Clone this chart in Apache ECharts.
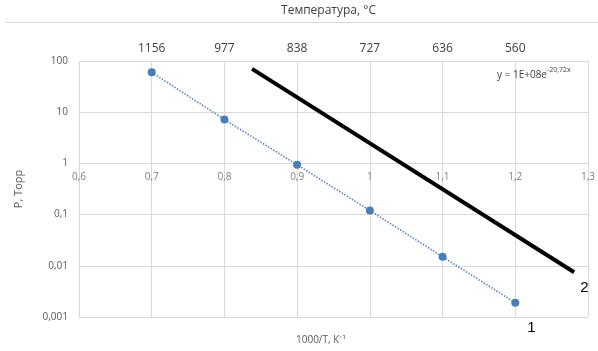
<!DOCTYPE html>
<html>
<head>
<meta charset="utf-8">
<script src="https://cdn.jsdelivr.net/npm/echarts@6/dist/echarts.min.js"></script>
<style>
  html, body { margin: 0; padding: 0; background: #fff; }
  #chart { width: 598px; height: 351px; }
</style>
</head>
<body>
<div id="chart"></div>
<script>
// Inverse temperature, 1000/T (K^-1)
const invT = [0.7, 0.8, 0.9, 1.0, 1.1, 1.2];
// Measured vapour pressure, Torr (curve 1)
const pressure1 = [60, 7.2, 0.94, 0.12, 0.015, 0.0019];
// Reference dependence (curve 2): two end points of the straight line
const invT2 = [0.838, 1.281];
const pressure2 = [70, 0.0075];

// Bottom axis tick labels (comma decimals)
const xTickLabels = ['0,6', '0,7', '0,8', '0,9', '1', '1,1', '1,2', '1,3'];
// Top axis: temperature in °C matching each 1000/T tick
const tempLabels = ['', '1156', '977', '838', '727', '636', '560', ''];
// Left axis tick labels
const yTickLabels = ['0,001', '0,01', '0,1', '1', '10', '100'];

const xMin = 0.6, xMax = 1.3, xStep = 0.1;
const tickIndex = v => Math.round((v - xMin) / xStep);

const FONT = 'Open Sans';
const chart = echarts.init(document.getElementById('chart'));

chart.setOption({
  animation: false,
  backgroundColor: '#ffffff',
  textStyle: { fontFamily: FONT },
  grid: { left: 79, right: 10, top: 61, bottom: 34, containLabel: false },
  xAxis: [
    {
      // value axis with labels drawn along the P = 1 line
      type: 'value', position: 'bottom', offset: -154,
      min: xMin, max: xMax, interval: xStep,
      axisLine: { show: false }, axisTick: { show: false },
      splitLine: { show: true, lineStyle: { color: '#d9d9d9', width: 1 } },
      axisLabel: {
        margin: 9, fontSize: 10, color: '#7f7f7f',
        formatter: v => xTickLabels[tickIndex(v)]
      }
    },
    {
      // temperature scale across the top
      type: 'value', position: 'top',
      min: xMin, max: xMax, interval: xStep,
      axisLine: { show: false }, axisTick: { show: false }, splitLine: { show: false },
      axisLabel: {
        margin: 6, fontSize: 12, color: '#404040',
        formatter: v => tempLabels[tickIndex(v)]
      },
      name: 'Температура, °C', nameLocation: 'middle', nameGap: 44,
      nameTextStyle: { fontSize: 12, color: '#404040', padding: [0, 10, 0, 0] }
    }
  ],
  yAxis: {
    type: 'log', logBase: 10, min: 0.001, max: 100,
    axisLine: { show: false }, axisTick: { show: false },
    splitLine: { show: true, lineStyle: { color: '#d9d9d9', width: 1 } },
    axisLabel: {
      margin: 11, fontSize: 10, color: '#595959',
      formatter: v => yTickLabels[Math.round(Math.log10(v)) + 3]
    },
    name: 'P, Торр', nameLocation: 'middle', nameGap: 55, nameRotate: 90,
    nameTextStyle: { fontSize: 11, color: '#595959' }
  },
  title: [
    {
      text: '1000/T, К⁻¹', left: 291, top: 330,
      textStyle: { fontFamily: FONT, fontSize: 10, fontWeight: 'normal', color: '#595959' }
    },
    {
      text: '{m|y = 1E+08e}{s|-20,72x}', left: 492, top: 61,
      textStyle: {
        fontFamily: FONT, fontWeight: 'normal',
        rich: {
          m: { fontFamily: FONT, fontSize: 10, color: '#404040', verticalAlign: 'bottom', lineHeight: 14 },
          s: { fontFamily: FONT, fontSize: 7, color: '#404040', verticalAlign: 'top', lineHeight: 14, padding: [0, 0, 6, 0] }
        }
      }
    }
  ],
  graphic: [
    {
      type: 'line', silent: true, z: -1,
      shape: { x1: 5, y1: 22.5, x2: 598, y2: 22.5 },
      style: { stroke: '#d9d9d9', lineWidth: 1 }
    }
  ],
  series: [
    {
      name: '1', type: 'line', xAxisIndex: 0,
      data: invT.map((x, i) => [x, pressure1[i]]),
      symbol: 'circle', symbolSize: 8,
      itemStyle: { color: '#4a7ebb' },
      lineStyle: { color: '#4a7ebb', width: 1.5, type: 'dotted' },
      endLabel: {
        show: true, formatter: '1', offset: [4, 25],
        fontFamily: 'Liberation Sans', fontSize: 15, color: '#000'
      },
      z: 3
    },
    {
      name: '2', type: 'line', xAxisIndex: 0,
      data: invT2.map((x, i) => [x, pressure2[i]]),
      showSymbol: false, symbol: 'none',
      lineStyle: { color: '#000000', width: 4 },
      endLabel: {
        show: true, formatter: '2', offset: [-2, 16],
        fontFamily: 'Liberation Sans', fontSize: 15, color: '#000'
      },
      z: 4
    }
  ]
});
</script>
</body>
</html>
